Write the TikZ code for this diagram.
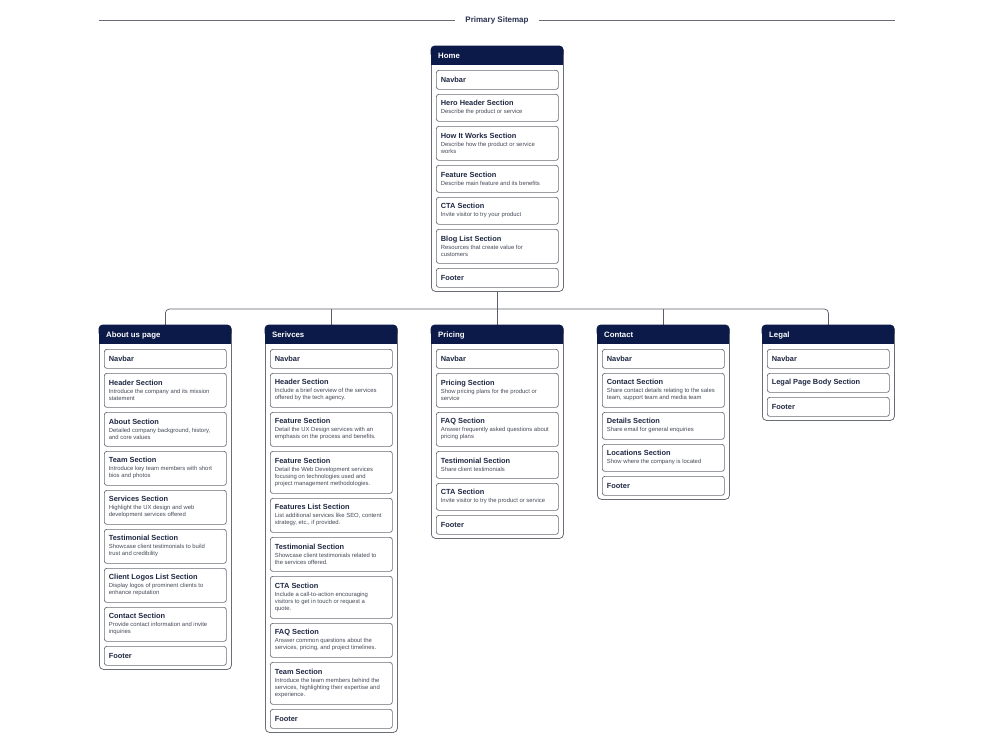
\documentclass[tikz,border=0pt]{standalone}
\usepackage{fontspec}
\setmainfont{Liberation Sans}
\definecolor{navy}{HTML}{0C1A4A}
\definecolor{ttlc}{HTML}{1E2742}
\definecolor{dscc}{HTML}{454A58}
\definecolor{bordc}{HTML}{6A6D75}
\definecolor{linec}{HTML}{5A5F6B}
\definecolor{sitec}{HTML}{2A3150}
\newcommand\ttlfont{\fontsize{7.4}{8.5}\selectfont\bfseries\color{ttlc}}
\newcommand\dscfont{\fontsize{5.9}{7}\selectfont\color{dscc}}
\newcommand\entT[1]{\begin{minipage}{113pt}\raggedright\ttlfont #1\end{minipage}}
\newcommand\entD[2]{\begin{minipage}{113pt}\raggedright{\ttlfont #1\par}\vspace{1pt}{\dscfont #2\par}\end{minipage}}
\tikzset{
  card/.style={draw=bordc, line width=0.8pt, fill=white, rounded corners=4pt, minimum width=132pt, inner sep=0pt, anchor=north west},
  entry/.style={draw=bordc, line width=0.7pt, rounded corners=2.5pt, minimum width=122pt, inner sep=0pt, anchor=north west},
  h0/.style={minimum height=19pt},
  h1/.style={minimum height=27pt},
  h2/.style={minimum height=34pt},
  h3/.style={minimum height=42pt},
  hdr/.style={font=\fontsize{7.8}{8}\selectfont\bfseries, text=white, anchor=west, inner sep=0pt},
  conn/.style={draw=linec, line width=0.7pt},
  band/.style={fill=navy},
}
\newcommand\cardhead[3]{% x-left, y-top, (unused)
  \fill[band, rounded corners=4pt] (#1-0.4,#2-0.4) rectangle (#1+132.4,#2+12);
  \fill[band] (#1-0.4,#2+6) rectangle (#1+132.4,#2+19);
}
\begin{document}
\begin{tikzpicture}[x=1pt,y=-1pt]
\useasboundingbox (0,0) rectangle (1000,750);

% title
\node[inner sep=0pt, font=\fontsize{8}{9}\selectfont\bfseries, text=sitec] (title) at (497,20) {Primary Sitemap};
\coordinate (tl) at (99,20);
\coordinate (tr) at (895,20);
\draw[draw=bordc, line width=0.8pt] (tl) -- ([xshift=-10pt]title.west);
\draw[draw=bordc, line width=0.8pt] ([xshift=10pt]title.east) -- (tr);

% cards
\node[card, minimum height=245pt] (home) at (431,46) {};
\node[card, minimum height=344pt] (about) at (99,325) {};
\node[card, minimum height=407pt] (serv) at (265,325) {};
\node[card, minimum height=213pt] (pric) at (431,325) {};
\node[card, minimum height=174pt] (cont) at (597,325) {};
\node[card, minimum height=95pt] (legal) at (762,325) {};

% connectors
\coordinate (bus) at (497,309);
\draw[conn] (home.south) -- (home.south |- bus);
\draw[conn, rounded corners=4pt] (about.north) -- (about.north |- bus) -- (legal.north |- bus) -- (legal.north);
\draw[conn] (serv.north) -- (serv.north |- bus);
\draw[conn] (pric.north) -- (pric.north |- bus);
\draw[conn] (cont.north) -- (cont.north |- bus);

% headers
\cardhead{431}{46}{}
\cardhead{99}{325}{}
\cardhead{265}{325}{}
\cardhead{431}{325}{}
\cardhead{597}{325}{}
\cardhead{762}{325}{}
\node[hdr] (homeT) at (438,56) {Home};
\node[hdr] (aboutT) at (106,335) {About us page};
\node[hdr] (servT) at (272,335) {Serivces};
\node[hdr] (pricT) at (438,335) {Pricing};
\node[hdr] (contT) at (604,335) {Contact};
\node[hdr] (legalT) at (769,335) {Legal};

% Home
\node[entry,h0] (homeNav) at (436,70) {\entT{Navbar}};
\node[entry,h1] (homeHero) at (436,94) {\entD{Hero Header Section}{Describe the product or service}};
\node[entry,h2] (homeHow) at (436,126) {\entD{How It Works Section}{Describe how the product or service\\works}};
\node[entry,h1] (homeFeat) at (436,165) {\entD{Feature Section}{Describe main feature and its benefits}};
\node[entry,h1] (homeCTA) at (436,197) {\entD{CTA Section}{Invite visitor to try your product}};
\node[entry,h2] (homeBlog) at (436,229) {\entD{Blog List Section}{Resources that create value for\\customers}};
\node[entry,h0] (homeFoot) at (436,268) {\entT{Footer}};

% About
\node[entry,h0] (aboutNav) at (104,349) {\entT{Navbar}};
\node[entry,h2] (aboutHead) at (104,373) {\entD{Header Section}{Introduce the company and its mission\\statement}};
\node[entry,h2] (aboutAbout) at (104,412) {\entD{About Section}{Detailed company background, history,\\and core values}};
\node[entry,h2] (aboutTeam) at (104,451) {\entD{Team Section}{Introduce key team members with short\\bios and photos}};
\node[entry,h2] (aboutServ) at (104,490) {\entD{Services Section}{Highlight the UX design and web\\development services offered}};
\node[entry,h2] (aboutTest) at (104,529) {\entD{Testimonial Section}{Showcase client testimonials to build\\trust and credibility}};
\node[entry,h2] (aboutLogos) at (104,568) {\entD{Client Logos List Section}{Display logos of prominent clients to\\enhance reputation}};
\node[entry,h2] (aboutCont) at (104,607) {\entD{Contact Section}{Provide contact information and invite\\inquiries}};
\node[entry,h0] (aboutFoot) at (104,646) {\entT{Footer}};

% Services
\node[entry,h0] (servNav) at (270,349) {\entT{Navbar}};
\node[entry,h2] (servHead) at (270,373) {\entD{Header Section}{Include a brief overview of the services\\offered by the tech agency.}};
\node[entry,h2] (servFeatA) at (270,412) {\entD{Feature Section}{Detail the UX Design services with an\\emphasis on the process and benefits.}};
\node[entry,h3] (servFeatB) at (270,451) {\entD{Feature Section}{Detail the Web Development services\\focusing on technologies used and\\project management methodologies.}};
\node[entry,h2] (servList) at (270,498) {\entD{Features List Section}{List additional services like SEO, content\\strategy, etc., if provided.}};
\node[entry,h2] (servTest) at (270,537) {\entD{Testimonial Section}{Showcase client testimonials related to\\the services offered.}};
\node[entry,h3] (servCTA) at (270,576) {\entD{CTA Section}{Include a call-to-action encouraging\\visitors to get in touch or request a\\quote.}};
\node[entry,h2] (servFAQ) at (270,623) {\entD{FAQ Section}{Answer common questions about the\\services, pricing, and project timelines.}};
\node[entry,h3] (servTeam) at (270,662) {\entD{Team Section}{Introduce the team members behind the\\services, highlighting their expertise and\\experience.}};
\node[entry,h0] (servFoot) at (270,709) {\entT{Footer}};

% Pricing
\node[entry,h0] (pricNav) at (436,349) {\entT{Navbar}};
\node[entry,h2] (pricPric) at (436,373) {\entD{Pricing Section}{Show pricing plans for the product or\\service}};
\node[entry,h2] (pricFAQ) at (436,412) {\entD{FAQ Section}{Answer frequently asked questions about\\pricing plans}};
\node[entry,h1] (pricTest) at (436,451) {\entD{Testimonial Section}{Share client testimonials}};
\node[entry,h1] (pricCTA) at (436,483) {\entD{CTA Section}{Invite visitor to try the product or service}};
\node[entry,h0] (pricFoot) at (436,515) {\entT{Footer}};

% Contact
\node[entry,h0] (contNav) at (602,349) {\entT{Navbar}};
\node[entry,h2] (contCont) at (602,373) {\entD{Contact Section}{Share contact details relating to the sales\\team, support team and media team}};
\node[entry,h1] (contDet) at (602,412) {\entD{Details Section}{Share email for general enquiries}};
\node[entry,h1] (contLoc) at (602,444) {\entD{Locations Section}{Show where the company is located}};
\node[entry,h0] (contFoot) at (602,476) {\entT{Footer}};

% Legal
\node[entry,h0] (legalNav) at (767,349) {\entT{Navbar}};
\node[entry,h0] (legalBody) at (767,373) {\entT{Legal Page Body Section}};
\node[entry,h0] (legalFoot) at (767,397) {\entT{Footer}};
\end{tikzpicture}
\end{document}
